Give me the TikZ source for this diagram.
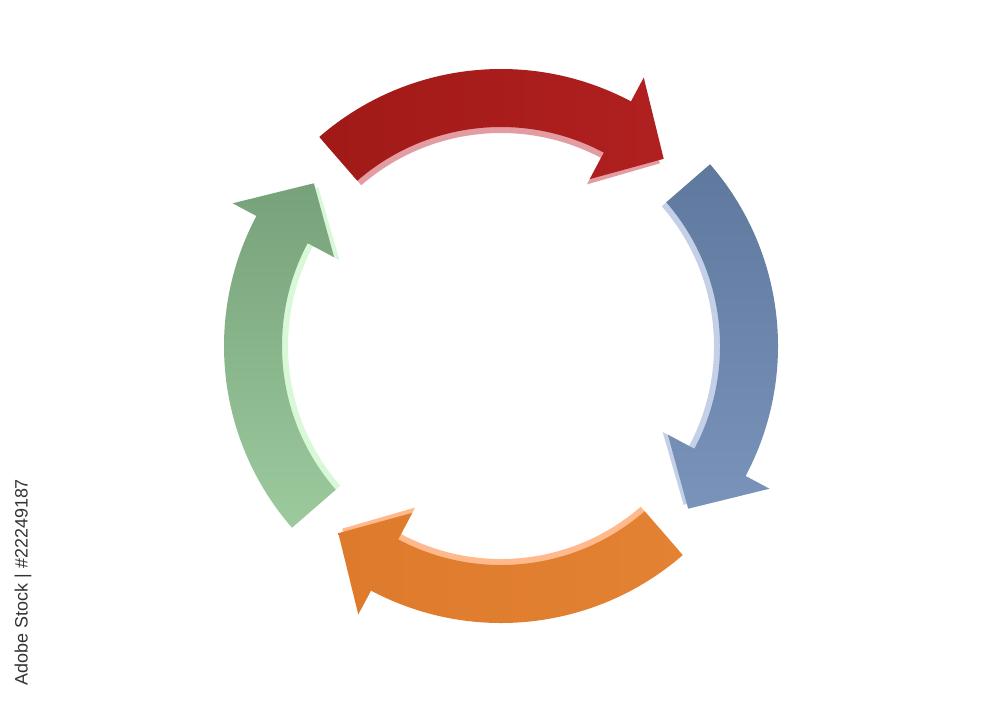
\documentclass[tikz,border=0pt]{standalone}
\usepackage{fontspec}
\setsansfont{Liberation Sans}
\usepackage{xcolor}
\usepackage{tikz}

\definecolor{cyclered}{HTML}{A01A18}
\definecolor{cycleredhi}{HTML}{B02020}
\definecolor{cycleredlt}{HTML}{E29CA2}
\definecolor{cycleblue}{HTML}{5E789E}
\definecolor{cyclebluehi}{HTML}{7A93BA}
\definecolor{cyclebluelt}{HTML}{C3D0E8}
\definecolor{cycleorange}{HTML}{DE7A2C}
\definecolor{cycleorangehi}{HTML}{E38233}
\definecolor{cycleorangelt}{HTML}{FFB98C}
\definecolor{cyclegreen}{HTML}{77A17A}
\definecolor{cyclegreenhi}{HTML}{9CCA9D}
\definecolor{cyclegreenlt}{HTML}{D8F8D8}

\begin{document}
\begin{tikzpicture}[
    font=\sffamily,
    redface/.style={left color=cyclered, right color=cycleredhi},
    rededge/.style={fill=cycleredlt},
    blueface/.style={top color=cycleblue, bottom color=cyclebluehi},
    blueedge/.style={fill=cyclebluelt},
    orangeface/.style={left color=cycleorange, right color=cycleorangehi},
    orangeedge/.style={fill=cycleorangelt},
    greenface/.style={top color=cyclegreen, bottom color=cyclegreenhi},
    greenedge/.style={fill=cyclegreenlt},
    idlabel/.style={text=black!80, font=\sffamily\fontsize{5.1}{6}\selectfont, rotate=90}
]

    \useasboundingbox (0,0) rectangle (10,7.01);
    \fill[white] (0,0) rectangle (10,7.01);

    \begin{scope}[shift={(5.01,3.55)}]
    % red arrow (top)
    \fill[rededge] (131:2.71) arc[start angle=131, end angle=62, radius=2.71] -- (62:2.98) -- (49:2.42) -- (62:1.83) -- (62:2.13) arc[start angle=62, end angle=131, radius=2.13] -- cycle;
    \shade[redface] (131:2.77) arc[start angle=131, end angle=62, radius=2.77] -- (62:3.04) -- (49:2.48) -- (62:1.89) -- (62:2.19) arc[start angle=62, end angle=131, radius=2.19] -- cycle;

    % blue arrow (right)
    \fill[blueedge] (41:2.71) arc[start angle=41, end angle=-28, radius=2.71] -- (-28:2.98) -- (-41:2.42) -- (-28:1.83) -- (-28:2.13) arc[start angle=-28, end angle=41, radius=2.13] -- cycle;
    \shade[blueface] (41:2.77) arc[start angle=41, end angle=-28, radius=2.77] -- (-28:3.04) -- (-41:2.48) -- (-28:1.89) -- (-28:2.19) arc[start angle=-28, end angle=41, radius=2.19] -- cycle;

    % orange arrow (bottom)
    \fill[orangeedge] (-49:2.71) arc[start angle=-49, end angle=-118, radius=2.71] -- (-118:2.98) -- (-131:2.42) -- (-118:1.83) -- (-118:2.13) arc[start angle=-118, end angle=-49, radius=2.13] -- cycle;
    \shade[orangeface] (-49:2.77) arc[start angle=-49, end angle=-118, radius=2.77] -- (-118:3.04) -- (-131:2.48) -- (-118:1.89) -- (-118:2.19) arc[start angle=-118, end angle=-49, radius=2.19] -- cycle;

    % green arrow (left)
    \fill[greenedge] (-139:2.71) arc[start angle=-139, end angle=-208, radius=2.71] -- (-208:2.98) -- (-221:2.42) -- (-208:1.83) -- (-208:2.13) arc[start angle=-208, end angle=-139, radius=2.13] -- cycle;
    \shade[greenface] (-139:2.77) arc[start angle=-139, end angle=-208, radius=2.77] -- (-208:3.04) -- (-221:2.48) -- (-208:1.89) -- (-208:2.19) arc[start angle=-208, end angle=-139, radius=2.19] -- cycle;
    \end{scope}

    \node[idlabel] (stockid) at (0.23,1.19) {Adobe Stock | \#22249187};

\end{tikzpicture}
\end{document}
